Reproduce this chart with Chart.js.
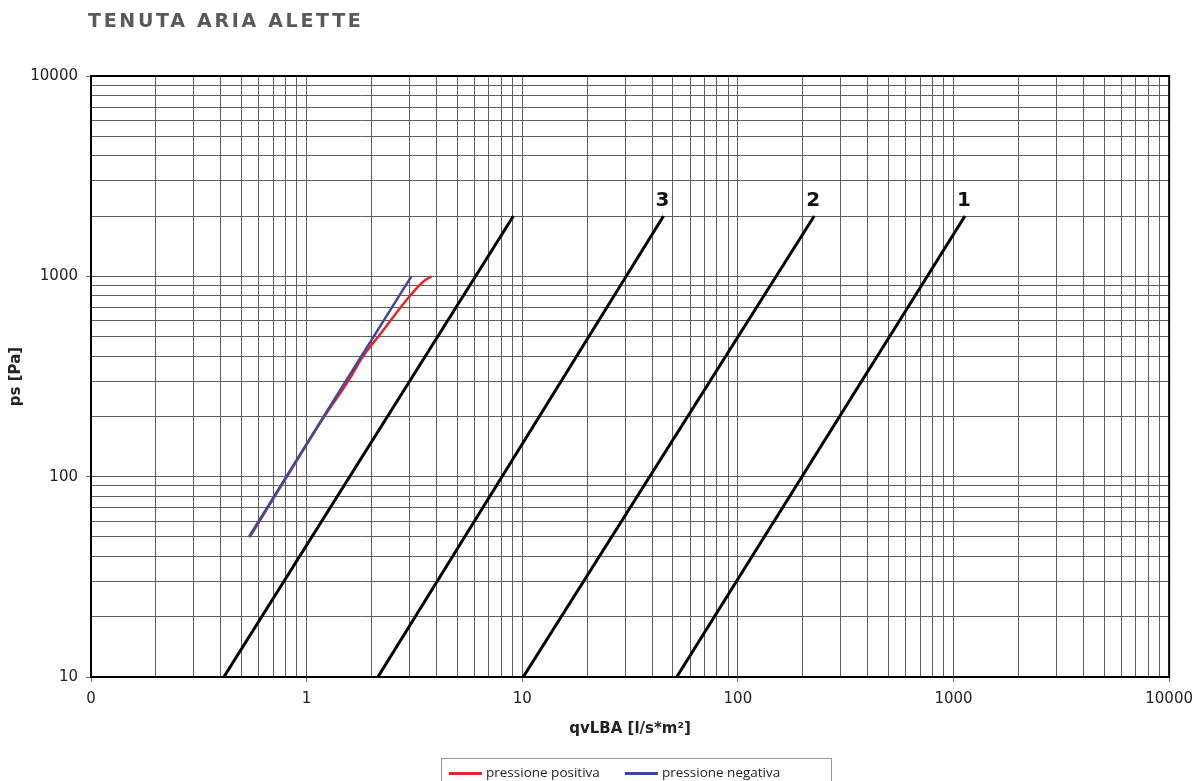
<!DOCTYPE html>
<html>
<head>
<meta charset="utf-8">
<script src="https://cdn.jsdelivr.net/npm/chart.js@4.4.1/dist/chart.umd.min.js"></script>
<style>
  body { margin: 0; background: #fff; }
  #wrap { position: relative; width: 1201px; height: 781px; overflow: hidden; }
  #title { position: absolute; left: 88px; top: 9px; font-family: "DejaVu Sans", sans-serif; font-weight: bold;
           font-size: 19px; letter-spacing: 2.7px; color: #5a5a5a; }
  #legend { position: absolute; left: 441px; top: 758px; width: 389px; height: 30px; border: 1px solid #9a9a9a;
            font-family: "Open Sans", sans-serif; font-size: 13.5px; color: #222; }
  #legend .item { position: absolute; top: 4px; white-space: nowrap; }
  #legend .swatch { display: inline-block; width: 33px; height: 3px; vertical-align: middle; margin-right: 4px; }
</style>
</head>
<body>
<div id="wrap">
  <div id="title">TENUTA ARIA ALETTE</div>
  <canvas id="chart" width="1201" height="781"></canvas>
  <div id="legend"></div>
</div>
<script>
// axis ranges and tick labels
var xDecades = [0.1, 1, 10, 100, 1000, 10000]
var xTickLabels = ["0", "1", "10", "100", "1000", "10000"]
var yDecades = [10, 100, 1000, 10000]
var yTickLabels = ["10", "100", "1000", "10000"]

// leakage class lines (pressure from 10 to 2000 Pa)
var classPressure = [10, 2000]
var classNames = ["", "3", "2", "1"]
var classLow = [0.413, 2.14, 10.1, 52]
var classHigh = [9.1, 45.2, 226, 1130]

// measured curves
var positiveQ = [0.545, 0.81, 1.21, 1.56, 1.83, 2.18, 2.9, 3.47, 3.79]
var positiveP = [50, 100, 200, 300, 400, 510, 760, 940, 1000]
var negativeQ = [0.54, 1.2, 3.06]
var negativeP = [50, 200, 1000]

var seriesNames = ["pressione positiva", "pressione negativa"]
var seriesColors = ["#e8262a", "#3b4a9e"]

function minorTicks(decades){
    var vals = []
    for (var d = 0; d < decades.length - 1; d++) {
        for (var m = 1; m < 10; m++) vals.push({ value: decades[d] * m })
    }
    vals.push({ value: decades[decades.length - 1] })
    return vals
}

function toPoints(xs, ys){
    var pts = []
    for (var i = 0; i < xs.length; i++) pts.push({ x: xs[i], y: ys[i] })
    return pts
}

var datasets = []
datasets.push({ label: seriesNames[1], data: toPoints(negativeQ, negativeP), borderColor: seriesColors[1],
    borderWidth: 2.5, pointRadius: 0, tension: 0, order: 0 })
datasets.push({ label: seriesNames[0], data: toPoints(positiveQ, positiveP), borderColor: seriesColors[0],
    borderWidth: 2.5, pointRadius: 0, cubicInterpolationMode: "monotone", order: 1 })
for (var c = 0; c < classLow.length; c++) {
    datasets.push({ label: "classe " + classNames[c], data: toPoints([classLow[c], classHigh[c]], classPressure),
        borderColor: "#000", borderWidth: 3, pointRadius: 0, order: 2 })
}

var frame = {
    id: "frame",
    afterDraw: function(chart){
        var a = chart.chartArea, ctx = chart.ctx
        ctx.save()
        ctx.strokeStyle = "#000"
        ctx.lineWidth = 2
        ctx.strokeRect(a.left, a.top, a.right - a.left, a.bottom - a.top)
        // class labels at the top of each class line
        ctx.font = "bold 20px 'DejaVu Sans', sans-serif"
        ctx.fillStyle = "#111"
        ctx.textAlign = "center"
        ctx.textBaseline = "middle"
        var xs = chart.scales.x, ys = chart.scales.y
        for (var i = 0; i < classNames.length; i++) {
            ctx.fillText(classNames[i], xs.getPixelForValue(classHigh[i]) - 1, ys.getPixelForValue(classPressure[1]) - 15)
        }
        ctx.restore()
    }
}

function isDecade(list, v){
    for (var i = 0; i < list.length; i++) if (Math.abs(list[i] - v) < 1e-9 * list[i]) return i
    return -1
}

var gridColor = "#5e5e5e"
var tickFont = { family: "'DejaVu Sans', sans-serif", size: 15 }
var titleFont = { family: "'DejaVu Sans', sans-serif", size: 15, weight: "bold" }

new Chart(document.getElementById("chart"), {
    type: "line",
    data: { datasets: datasets },
    plugins: [frame],
    options: {
        responsive: false,
        animation: false,
        layout: { padding: { top: 76, right: 31, left: 0, bottom: 0 } },
        plugins: { legend: { display: false }, tooltip: { enabled: false } },
        scales: {
            x: {
                type: "logarithmic", min: 0.1, max: 10000,
                afterBuildTicks: function(scale){ scale.ticks = minorTicks(xDecades) },
                afterFit: function(scale){ scale.height = 104 },
                ticks: {
                    autoSkip: false, maxRotation: 0, padding: 8, color: "#222", font: tickFont,
                    callback: function(value){ var i = isDecade(xDecades, value); return i < 0 ? "" : xTickLabels[i] }
                },
                grid: {
                    color: gridColor, lineWidth: 1, tickLength: 5,
                    tickColor: function(ctx){ return ctx.tick && isDecade(xDecades, ctx.tick.value) >= 0 ? "#777" : "rgba(0,0,0,0)" }
                },
                border: { color: "#000", width: 2 },
                title: { display: true, text: "qvLBA [l/s*m²]", color: "#222", font: titleFont, padding: { top: 0, bottom: 43 } }
            },
            y: {
                type: "logarithmic", min: 10, max: 10000,
                afterBuildTicks: function(scale){ scale.ticks = minorTicks(yDecades) },
                afterFit: function(scale){ scale.width = 91 },
                ticks: {
                    autoSkip: false, padding: 8, color: "#222", font: tickFont,
                    callback: function(value){ var i = isDecade(yDecades, value); return i < 0 ? "" : yTickLabels[i] }
                },
                grid: {
                    color: gridColor, lineWidth: 1, tickLength: 5,
                    tickColor: function(ctx){ return ctx.tick && isDecade(yDecades, ctx.tick.value) >= 0 ? "#777" : "rgba(0,0,0,0)" }
                },
                border: { color: "#000", width: 2 },
                title: { display: true, text: "ps [Pa]", color: "#222", font: titleFont, padding: { top: 7, bottom: 0 } }
            }
        }
    }
})

// legend built from the series arrays
var legend = document.getElementById("legend")
var lefts = [7, 183]
for (var s = 0; s < seriesNames.length; s++) {
    var item = document.createElement("div")
    item.className = "item"
    item.style.left = lefts[s] + "px"
    item.innerHTML = '<span class="swatch" style="background:' + seriesColors[s] + '"></span>' + seriesNames[s]
    legend.appendChild(item)
}
</script>
</body>
</html>
